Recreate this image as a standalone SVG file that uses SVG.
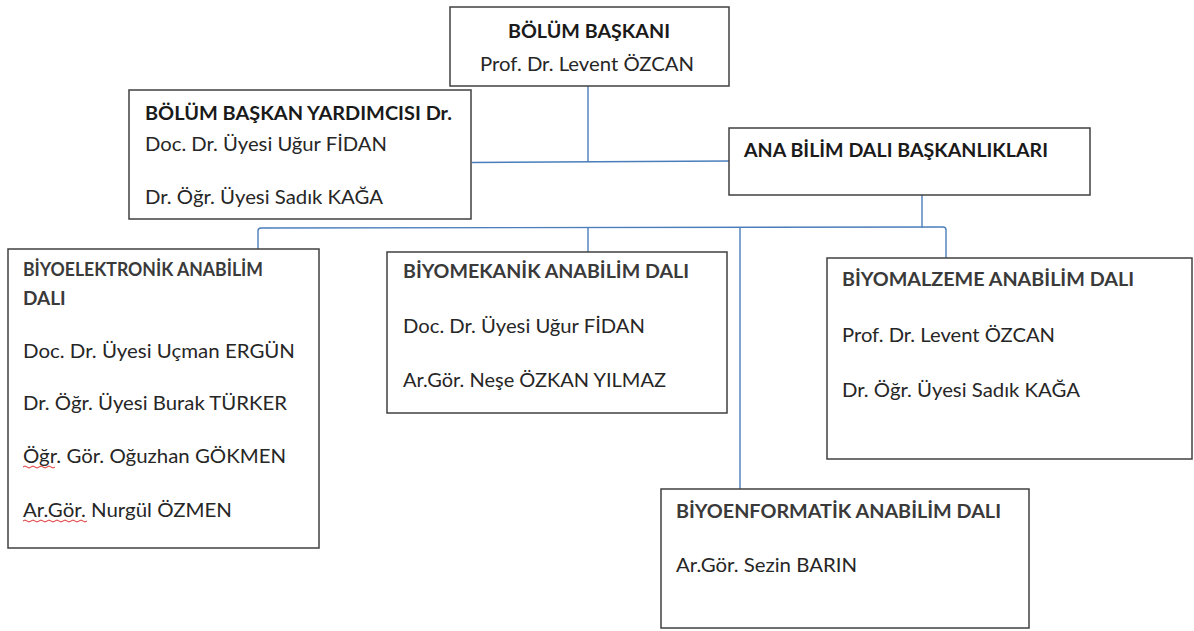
<svg xmlns="http://www.w3.org/2000/svg" width="1194" height="631" viewBox="0 0 1194 631">
<style>
  .box { fill: #ffffff; stroke: #404040; stroke-width: 1.5; }
  .conn { fill: none; stroke: #4a7ebb; stroke-width: 1.4; }
  .t { font-family: Lato, "Open Sans", "Noto Sans", sans-serif; font-size: 19px; fill: #262626; }
  .b { font-weight: bold; fill: #1a1a1a; }
  .bg { font-weight: bold; fill: #3a3a3a; }
  .sq { fill: none; stroke: #e03030; stroke-width: 1; }
</style>
<rect width="1194" height="631" fill="#ffffff"/>
<g id="connectors">
  <path class="conn" d="M588,86 V162"/>
  <path class="conn" d="M472,162.5 L729,161"/>
  <path class="conn" d="M922,195 V227.5"/>
  <path class="conn" d="M258,249 V231 Q258,228 261,228 L943,227 Q946,227 946,230 V258"/>
  <path class="conn" d="M588,227.5 V252"/>
  <path class="conn" d="M740,227.5 V489"/>
</g>
<g id="bolum-baskani">
  <rect class="box" x="450" y="7" width="279" height="79"/>
  <text class="t b" x="508" y="38" textLength="162" lengthAdjust="spacingAndGlyphs">BÖLÜM BAŞKANI</text>
  <text class="t" x="480" y="71" textLength="214" lengthAdjust="spacingAndGlyphs">Prof. Dr. Levent ÖZCAN</text>
</g>
<g id="baskan-yardimcisi">
  <rect class="box" x="129" y="90" width="342" height="129"/>
  <text class="t b" x="145" y="120" textLength="307" lengthAdjust="spacingAndGlyphs">BÖLÜM BAŞKAN YARDIMCISI Dr.</text>
  <text class="t" x="145" y="151" textLength="242" lengthAdjust="spacingAndGlyphs">Doc. Dr. Üyesi Uğur FİDAN</text>
  <text class="t" x="145" y="204" textLength="238" lengthAdjust="spacingAndGlyphs">Dr. Öğr. Üyesi Sadık KAĞA</text>
</g>
<g id="ana-bilim-dali">
  <rect class="box" x="729" y="128" width="361" height="67"/>
  <text class="t b" x="744" y="157" textLength="304" lengthAdjust="spacingAndGlyphs">ANA BİLİM DALI BAŞKANLIKLARI</text>
</g>
<g id="biyoelektronik">
  <rect class="box" x="8" y="249" width="311" height="299"/>
  <text class="t bg" x="23" y="276" textLength="240" lengthAdjust="spacingAndGlyphs">BİYOELEKTRONİK ANABİLİM</text>
  <text class="t bg" x="23" y="305">DALI</text>
  <text class="t" x="23" y="358" textLength="272" lengthAdjust="spacingAndGlyphs">Doc. Dr. Üyesi Uçman ERGÜN</text>
  <text class="t" x="23" y="410" textLength="264" lengthAdjust="spacingAndGlyphs">Dr. Öğr. Üyesi Burak TÜRKER</text>
  <text class="t" x="23" y="463" textLength="263" lengthAdjust="spacingAndGlyphs">Öğr. Gör. Oğuzhan GÖKMEN</text>
  <text class="t" x="23" y="517" textLength="209" lengthAdjust="spacingAndGlyphs">Ar.Gör. Nurgül ÖZMEN</text>
  <path class="sq" d="M23,467 q2,-2 4,0 t4,0 t4,0 t4,0 t4,0 t4,0 t4,0 t4,0"/>
  <path class="sq" d="M23,521 q2,-2 4,0 t4,0 t4,0 t4,0 t4,0 t4,0 t4,0 t4,0 t4,0 t4,0 t4,0 t4,0 t4,0 t4,0 t4,0 t4,0"/>
</g>
<g id="biyomekanik">
  <rect class="box" x="387" y="252" width="340" height="161"/>
  <text class="t bg" x="403" y="278" textLength="286" lengthAdjust="spacingAndGlyphs">BİYOMEKANİK ANABİLİM DALI</text>
  <text class="t" x="403" y="333" textLength="242" lengthAdjust="spacingAndGlyphs">Doc. Dr. Üyesi Uğur FİDAN</text>
  <text class="t" x="403" y="387" textLength="263" lengthAdjust="spacingAndGlyphs">Ar.Gör. Neşe ÖZKAN YILMAZ</text>
</g>
<g id="biyomalzeme">
  <rect class="box" x="827" y="258" width="365" height="201"/>
  <text class="t bg" x="842" y="286" textLength="292" lengthAdjust="spacingAndGlyphs">BİYOMALZEME ANABİLİM DALI</text>
  <text class="t" x="842" y="342" textLength="213" lengthAdjust="spacingAndGlyphs">Prof. Dr. Levent ÖZCAN</text>
  <text class="t" x="842" y="397" textLength="238" lengthAdjust="spacingAndGlyphs">Dr. Öğr. Üyesi Sadık KAĞA</text>
</g>
<g id="biyoenformatik">
  <rect class="box" x="661" y="489" width="368" height="139"/>
  <text class="t bg" x="676" y="518" textLength="325" lengthAdjust="spacingAndGlyphs">BİYOENFORMATİK ANABİLİM DALI</text>
  <text class="t" x="676" y="572" textLength="181" lengthAdjust="spacingAndGlyphs">Ar.Gör. Sezin BARIN</text>
</g>
</svg>
